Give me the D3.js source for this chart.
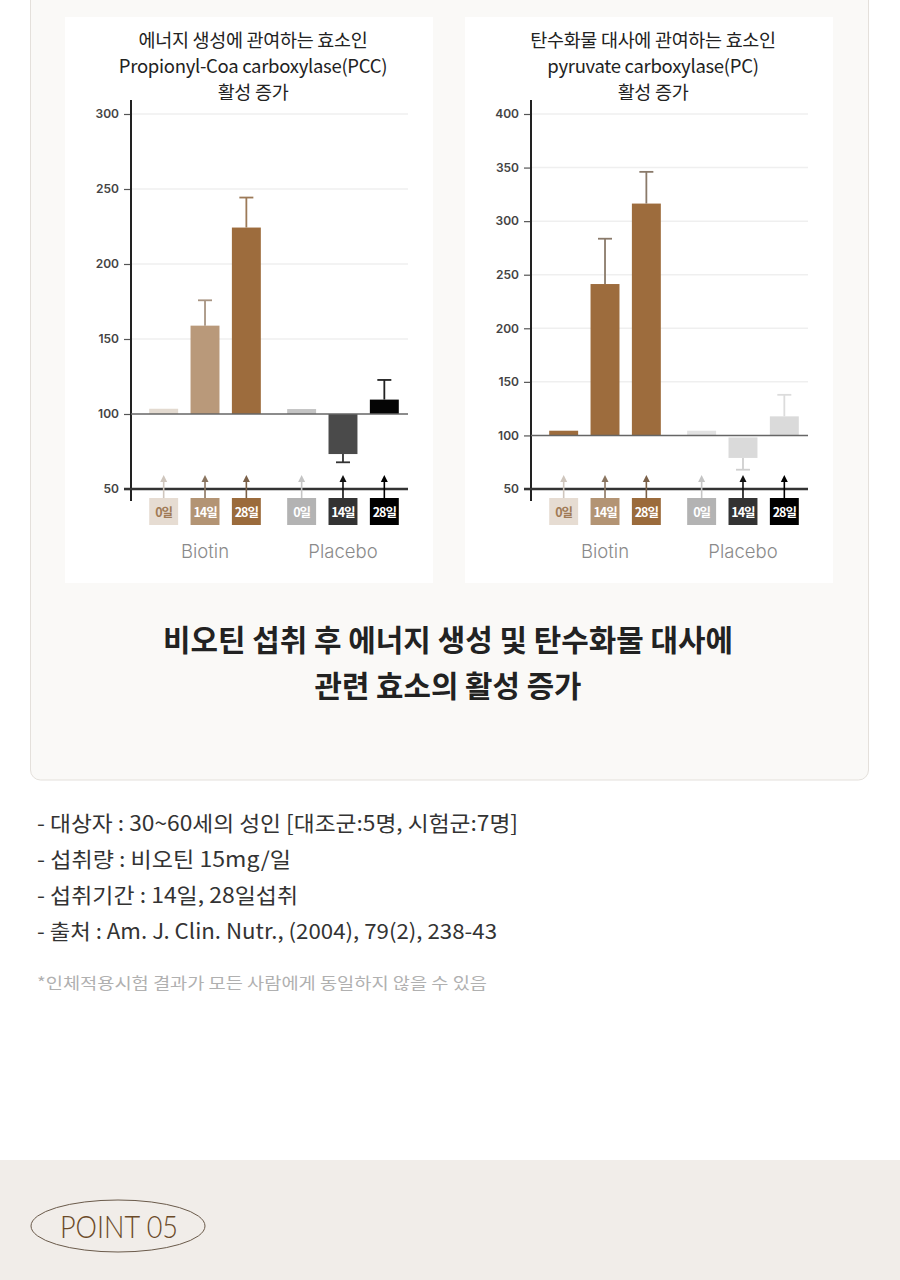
<!DOCTYPE html>
<head>
  <meta charset="utf-8">
  <script src="https://d3js.org/d3.v7.min.js"></script>
  <style>
    body { margin:0; background:#fff; }
    text { font-family: "Noto Sans CJK KR", "Noto Sans", sans-serif; }
  </style>
</head>
<body>
<script>
// ---- data ----
var groups = ["Biotin", "Placebo"];
var days = ["0일", "14일", "28일"];

var pccTitle = ["에너지 생성에 관여하는 효소인", "Propionyl-Coa carboxylase(PCC)", "활성 증가"];
var pccTicks = [50, 100, 150, 200, 250, 300];
var pccValues = [103.5, 158.9, 224.3, 103.3, 73.3, 109.6];
var pccErrors = [null, 175.8, 244.3, null, 67.8, 122.7];

var pcTitle = ["탄수화물 대사에 관여하는 효소인", "pyruvate carboxylase(PC)", "활성 증가"];
var pcTicks = [50, 100, 150, 200, 250, 300, 350, 400];
var pcValues = [104.4, 241.3, 316.4, 104.4, 79.0, 117.8];
var pcErrors = [null, 283.6, 346.0, null, 68.0, 137.9];

var headline = ["비오틴 섭취 후 에너지 생성 및 탄수화물 대사에", "관련 효소의 활성 증가"];
var notes = [
  "- 대상자 : 30~60세의 성인 [대조군:5명, 시험군:7명]",
  "- 섭취량 : 비오틴 15mg/일",
  "- 섭취기간 : 14일, 28일섭취",
  "- 출처 : Am. J. Clin. Nutr., (2004), 79(2), 238-43"
];
var footnote = "*인체적용시험 결과가 모든 사람에게 동일하지 않을 수 있음";

// ---- styles ----
var boxFill = ["#e6dcd2", "#b39474", "#9b6b3c", "#b3b3b3", "#333333", "#000000"];
var boxText = ["#a07a55", "#fff", "#fff", "#fff", "#fff", "#fff"];
var arrowColor = ["#cfc6bd", "#8a7560", "#7a6048", "#c4c4c4", "#111", "#000"];

var svg = d3.select("body").append("svg")
  .attr("width", 900).attr("height", 1280);

// card + panels
svg.append("rect").attr("x", 30.5).attr("y", -20).attr("width", 838).attr("height", 800)
  .attr("rx", 10).attr("fill", "#faf9f7").attr("stroke", "#e4e0db");

function chart(opt) {
  var ax = opt.axisX;
  var g = svg.append("g");
  g.append("rect").attr("x", ax - 66).attr("y", 17).attr("width", 368).attr("height", 566).attr("fill", "#fff");

  // title
  g.selectAll("text.title").data(opt.title).enter().append("text")
    .attr("x", ax + 122).attr("y", function(d, i) { return 47 + i * 26; })
    .attr("text-anchor", "middle").attr("font-size", 18.5).attr("fill", "#222")
    .attr("letter-spacing", -0.3)
    .text(function(d) { return d; });

  var y = d3.scaleLinear().domain([50, opt.max]).range([489, 114]);
  var right = ax + 277;

  var x0 = d3.scaleBand().domain(groups).range([ax + 12, ax + 274]).paddingInner(0.101);
  var x1 = d3.scaleBand().domain(days).range([0, x0.bandwidth()]).paddingInner(0.3).paddingOuter(0.15);
  var xs = function(i) { return x0(groups[Math.floor(i / 3)]) + x1(days[i % 3]); };

  // grid
  g.selectAll("line.grid").data(opt.ticks.filter(function(t) { return t > 100; })).enter().append("line")
    .attr("x1", ax).attr("x2", right).attr("y1", y).attr("y2", y)
    .attr("stroke", "#efefef").attr("stroke-width", 1.5);

  // y axis
  var axis = g.append("g").attr("transform", "translate(" + ax + ",0)")
    .call(d3.axisLeft(y).tickValues(opt.ticks).tickSize(7).tickPadding(5));
  axis.select(".domain").remove();
  axis.selectAll(".tick line").attr("stroke", "#555").attr("stroke-width", 1.2);
  axis.selectAll(".tick text").attr("font-size", 12).attr("font-weight", 600).attr("fill", "#444")
    .style("font-family", "Inter, sans-serif");
  g.append("line").attr("x1", ax).attr("x2", ax).attr("y1", 100).attr("y2", 501)
    .attr("stroke", "#222").attr("stroke-width", 2);

  // bars
  var vals = opt.values;
  g.selectAll("rect.bar").data(vals).enter().append("rect")
    .attr("x", function(d, i) { return xs(i); })
    .attr("width", x1.bandwidth())
    .attr("y", function(d) { return d >= 100 ? y(d) : y(100) + opt.gap; })
    .attr("height", function(d) { return d >= 100 ? y(100) - y(d) : y(d) - y(100) - opt.gap; })
    .attr("fill", function(d, i) { return opt.barFill[i]; });

  // error bars
  opt.errors.forEach(function(e, i) {
    if (e == null) return;
    var cx = xs(i) + x1.bandwidth() / 2;
    g.append("line").attr("x1", cx).attr("x2", cx).attr("y1", y(vals[i])).attr("y2", y(e))
      .attr("stroke", opt.errColor[i]).attr("stroke-width", 1.8);
    g.append("line").attr("x1", cx - 7).attr("x2", cx + 7).attr("y1", y(e)).attr("y2", y(e))
      .attr("stroke", opt.errColor[i]).attr("stroke-width", 1.8);
  });

  // baseline at 100 and bottom line at 50
  g.append("line").attr("x1", ax).attr("x2", right).attr("y1", y(100)).attr("y2", y(100))
    .attr("stroke", "#666").attr("stroke-width", 1.5);
  g.append("line").attr("x1", ax - 7).attr("x2", right).attr("y1", y(50)).attr("y2", y(50))
    .attr("stroke", "#333").attr("stroke-width", 2.5);

  // arrows + day boxes
  days.concat(days).forEach(function(d, i) {
    var bx = xs(i), cx = bx + x1.bandwidth() / 2;
    g.append("line").attr("x1", cx).attr("x2", cx).attr("y1", 480).attr("y2", 498)
      .attr("stroke", arrowColor[i]).attr("stroke-width", 1.6);
    g.append("path").attr("d", "M" + (cx - 3.5) + ",482 L" + cx + ",475 L" + (cx + 3.5) + ",482 Z")
      .attr("fill", arrowColor[i]);
    g.append("rect").attr("x", bx).attr("y", 498).attr("width", x1.bandwidth()).attr("height", 27)
      .attr("fill", boxFill[i]);
    g.append("text").attr("x", cx).attr("y", 516.5).attr("text-anchor", "middle")
      .attr("font-size", 12.5).attr("font-weight", 700).attr("letter-spacing", -1)
      .attr("fill", boxText[i]).text(d);
  });

  // group labels
  g.selectAll("text.grp").data(groups).enter().append("text")
    .attr("x", function(d) { return x0(d) + x0.bandwidth() / 2; }).attr("y", 558)
    .attr("text-anchor", "middle").attr("font-size", 18.5).attr("fill", "#8a8a8a")
    .style("font-family", "Inter, sans-serif").attr("font-weight", 300)
    .text(function(d) { return d; });
}

chart({
  axisX: 131, max: 300, ticks: pccTicks, title: pccTitle,
  values: pccValues, errors: pccErrors, gap: 0,
  barFill: ["#e3dad0", "#b9997a", "#9d6c3d", "#c4c4c4", "#4a4a4a", "#050505"],
  errColor: ["#ccc", "#a89482", "#9c7a58", "#bbb", "#333", "#222"]
});
chart({
  axisX: 531, max: 400, ticks: pcTicks, title: pcTitle,
  values: pcValues, errors: pcErrors, gap: 2,
  barFill: ["#9d6c3d", "#9d6c3d", "#9d6c3d", "#e2e2e2", "#dadada", "#dadada"],
  errColor: ["#999", "#8a7a6a", "#8a7a6a", "#ddd", "#cfcfcf", "#dcdcdc"]
});

// headline
var hlWidth = [570, 267];
svg.selectAll("text.hl").data(headline).enter().append("text")
  .attr("x", 448).attr("y", function(d, i) { return 651 + i * 46; })
  .attr("text-anchor", "middle").attr("font-size", 30).attr("font-weight", 700).attr("fill", "#222")
  .attr("textLength", function(d, i) { return hlWidth[i]; }).attr("lengthAdjust", "spacingAndGlyphs")
  .text(function(d) { return d; });

// notes
var noteWidth = [481, 254, 261, 460];
svg.selectAll("text.note").data(notes).enter().append("text")
  .attr("x", 37).attr("y", function(d, i) { return 831 + i * 36; })
  .attr("font-size", 21).attr("fill", "#333")
  .attr("textLength", function(d, i) { return noteWidth[i]; }).attr("lengthAdjust", "spacingAndGlyphs")
  .text(function(d) { return d; });
svg.append("text").attr("x", 37).attr("y", 989).attr("font-size", 16).attr("fill", "#b0b0b0")
  .attr("textLength", 450).attr("lengthAdjust", "spacingAndGlyphs").text(footnote);

// bottom band
svg.append("rect").attr("x", 0).attr("y", 1160).attr("width", 900).attr("height", 120).attr("fill", "#f1ede9");
svg.append("ellipse").attr("cx", 118).attr("cy", 1226).attr("rx", 87).attr("ry", 26)
  .attr("fill", "none").attr("stroke", "#6a5a4a").attr("stroke-width", 1);
svg.append("text").attr("x", 119).attr("y", 1238).attr("text-anchor", "middle")
  .attr("font-size", 31).attr("font-weight", 300).attr("fill", "#6b4a28")
  .style("font-family", "Lato, sans-serif")
  .attr("textLength", 118).attr("lengthAdjust", "spacingAndGlyphs").text("POINT 05");
</script>
</body>
